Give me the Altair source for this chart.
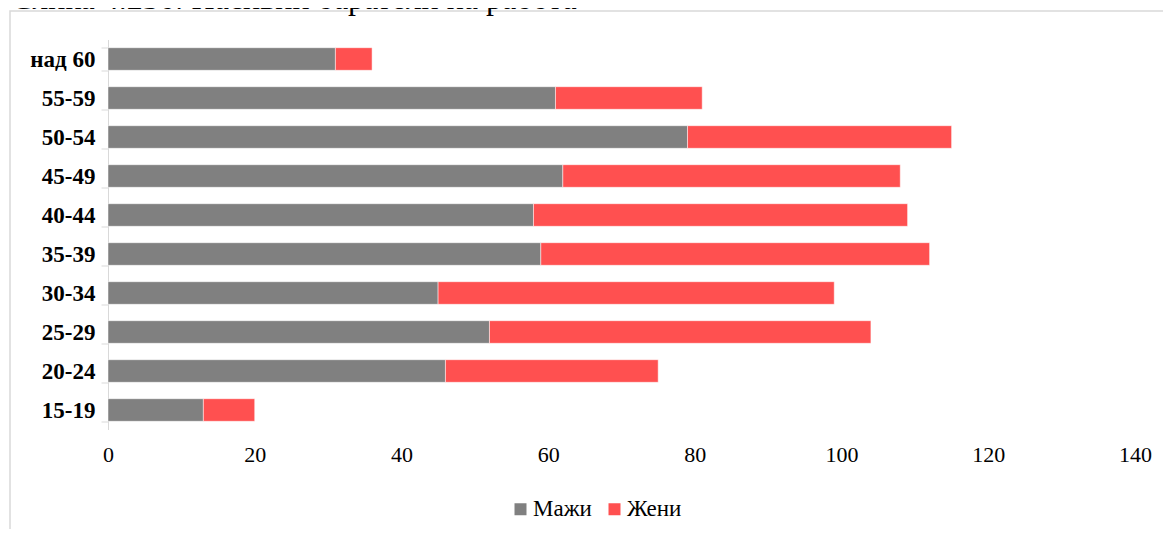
import altair as alt
import pandas as pd

# Age groups, top to bottom as drawn
age_groups = ["над 60", "55-59", "50-54", "45-49", "40-44", "35-39", "30-34", "25-29", "20-24", "15-19"]
men = [31, 61, 79, 62, 58, 59, 45, 52, 46, 13]
women = [5, 20, 36, 46, 51, 53, 54, 52, 29, 7]
series = ["Мажи", "Жени"]
series_colors = ["#808080", "#FF5050"]
x_ticks = [0, 20, 40, 60, 80, 100, 120, 140]
fig_title = "Слика 4.236: Пасивни баратели на работа"

rows = []
for g, m, w in zip(age_groups, men, women):
    rows.append({"group": g, "series": series[0], "value": m, "ord": 0})
    rows.append({"group": g, "series": series[1], "value": w, "ord": 1})
df = pd.DataFrame(rows)

FONT = "Liberation Serif"

bars = alt.Chart(df).mark_bar(stroke="#ffffff", strokeWidth=0.5).encode(
    y=alt.Y(
        "group:N",
        sort=age_groups,
        scale=alt.Scale(paddingInner=0.42, paddingOuter=0.21),
        axis=alt.Axis(
            title=None,
            labelFont=FONT,
            labelFontSize=23,
            labelFontWeight="bold",
            labelColor="#000000",
            labelPadding=6,
            domainColor="#d9d9d9",
            tickColor="#d9d9d9",
            tickSize=7,
            tickBand="extent",
            grid=False,
        ),
    ),
    x=alt.X(
        "value:Q",
        stack="zero",
        scale=alt.Scale(domain=[0, 140], nice=False),
        axis=alt.Axis(
            title=None,
            values=x_ticks,
            domain=False,
            ticks=False,
            grid=False,
            labelFlush=False,
            labelFont=FONT,
            labelFontSize=22,
            labelColor="#000000",
            labelPadding=15,
        ),
    ),
    color=alt.Color(
        "series:N",
        sort=series,
        scale=alt.Scale(domain=series, range=series_colors),
        legend=alt.Legend(
            title=None,
            orient="none",
            direction="horizontal",
            legendX=401,
            legendY=458,
            symbolType="square",
            symbolSize=144,
            symbolStrokeWidth=0,
            labelFont=FONT,
            labelFontSize=23,
            labelColor="#000000",
            labelOffset=1,
            columnPadding=11,
        ),
    ),
    order=alt.Order("ord:Q"),
)

frame = alt.Chart(pd.DataFrame({"k": [0]})).mark_rect(
    fillOpacity=0, stroke="#d9d9d9", strokeWidth=1.5
).encode(
    x=alt.value(-98), x2=alt.value(1200), y=alt.value(-28.5), y2=alt.value(600)
)

title_txt = alt.Chart(pd.DataFrame({"t": [fig_title]})).mark_text(
    align="left", baseline="alphabetic", font=FONT, fontSize=32, color="#000000"
).encode(
    x=alt.value(-97), y=alt.value(-30.5), text="t:N"
)

chart = alt.layer(frame, bars, title_txt).properties(
    width=1027,
    height=390,
    autosize=alt.AutoSizeParams(type="none"),
    padding={"left": 100, "top": 31.5, "right": 28, "bottom": 99.5},
).configure_view(stroke=None)

chart.save("out.html", embed_options={"renderer": "svg", "actions": False})
